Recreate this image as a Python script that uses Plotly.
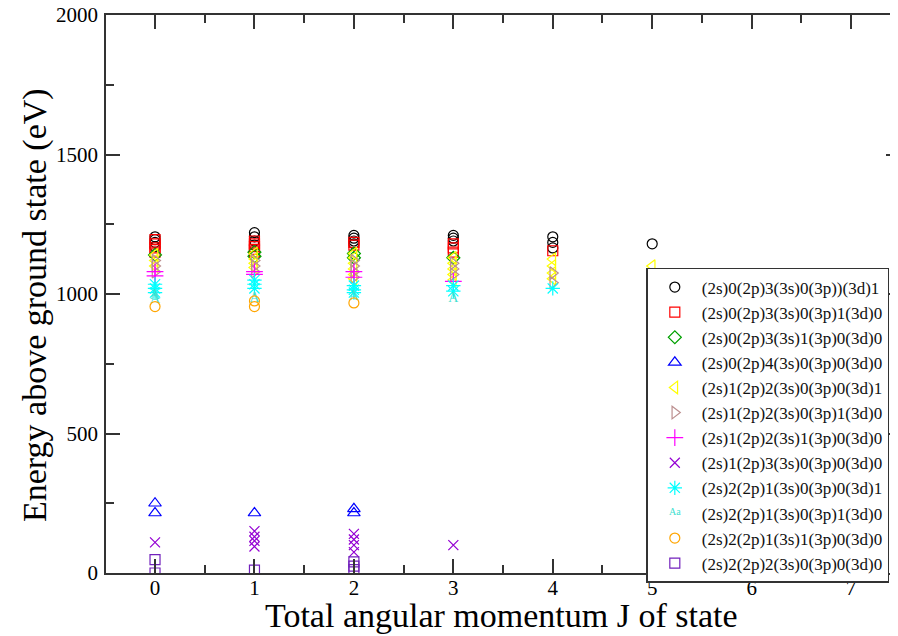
import plotly.graph_objects as go

# ---------------- data ----------------
names = [
    "(2s)0(2p)3(3s)0(3p))(3d)1",
    "(2s)0(2p)3(3s)0(3p)1(3d)0",
    "(2s)0(2p)3(3s)1(3p)0(3d)0",
    "(2s)0(2p)4(3s)0(3p)0(3d)0",
    "(2s)1(2p)2(3s)0(3p)0(3d)1",
    "(2s)1(2p)2(3s)0(3p)1(3d)0",
    "(2s)1(2p)2(3s)1(3p)0(3d)0",
    "(2s)1(2p)3(3s)0(3p)0(3d)0",
    "(2s)2(2p)1(3s)0(3p)0(3d)1",
    "(2s)2(2p)1(3s)0(3p)1(3d)0",
    "(2s)2(2p)1(3s)1(3p)0(3d)0",
    "(2s)2(2p)2(3s)0(3p)0(3d)0",
]

j1 = [0, 0, 0, 0, 1, 1, 1, 1, 2, 2, 2, 2, 3, 3, 3, 4, 4, 4, 5]
e1 = [1205, 1195, 1185, 1170, 1220, 1205, 1190, 1175, 1210, 1200, 1190, 1180, 1210, 1200, 1190, 1205, 1185, 1165, 1180]

j2 = [0, 0, 0, 0, 1, 1, 1, 1, 1, 2, 2, 3, 3, 3, 4]
e2 = [1195, 1180, 1165, 1150, 1190, 1180, 1170, 1160, 1150, 1185, 1175, 1180, 1165, 1150, 1155]

j3 = [0, 1, 1, 2, 2, 3]
e3 = [1140, 1150, 1135, 1145, 1130, 1130]

j4 = [0, 0, 1, 2, 2]
e4 = [250, 215, 215, 230, 215]

j5 = [0, 0, 0, 1, 1, 1, 1, 2, 2, 2, 2, 2, 2, 3, 3, 3, 3, 3, 4, 4, 4, 4, 5]
e5 = [1140, 1120, 1100, 1145, 1125, 1110, 1095, 1145, 1130, 1110, 1090, 1070, 1055,
      1130, 1110, 1090, 1070, 1050, 1125, 1100, 1075, 1055, 1100]

j6 = [0, 0, 0, 1, 1, 1, 2, 2, 2, 2, 3, 3, 3, 4, 4]
e6 = [1120, 1100, 1080, 1120, 1100, 1080, 1120, 1100, 1080, 1060, 1110, 1090, 1070, 1075, 1040]

j7 = [0, 0, 1, 1, 2, 2, 3]
e7 = [1080, 1065, 1080, 1070, 1080, 1060, 1045]

j8 = [0, 1, 1, 1, 1, 2, 2, 2, 2, 3]
e8 = [110, 150, 130, 115, 95, 140, 120, 100, 75, 100]

j9 = [0, 0, 0, 1, 1, 1, 2, 2, 2, 3, 3, 4]
e9 = [1035, 1020, 1005, 1050, 1035, 1020, 1030, 1015, 1005, 1030, 1010, 1020]

j10 = [0, 0, 1, 2, 3]
e10 = [995, 980, 985, 990, 985]

j11 = [0, 1, 1, 2]
e11 = [955, 975, 955, 968]

j12 = [0, 0, 1, 2, 2, 2]
e12 = [48, 0, 10, 40, 25, 12]

x_tick_vals = [0, 1, 2, 3, 4, 5, 6, 7]
y_tick_vals = [0, 500, 1000, 1500, 2000]

# ---------------- styles ----------------
colors = ["#000000", "#FF0000", "#00A000", "#0000FF", "#FFFF00", "#BC8F8F",
          "#FF00FF", "#9400D3", "#00FFFF", "#40E0D0", "#FFA500", "#7221BC"]
symbols = ["circle-open", "square-open", "diamond-open", "triangle-up-open",
           "triangle-left-open", "triangle-right-open", "cross-thin-open",
           "x-thin-open", "asterisk-open", None, "circle-open", "square-open"]
sizes = [10, 10, 10, 11, 11, 11, 12, 10, 12, 10, 10, 10]

js = [j1, j2, j3, j4, j5, j6, j7, j8, j9, j10, j11, j12]
es = [e1, e2, e3, e4, e5, e6, e7, e8, e9, e10, e11, e12]

SERIF = "Liberation Serif, Times New Roman, serif"

fig = go.Figure()
for i in range(12):
    if symbols[i] is None:
        fig.add_trace(go.Scatter(
            x=js[i], y=es[i], mode="text", text=["A"] * len(js[i]),
            textfont=dict(color=colors[i], size=14, family=SERIF),
            name=names[i], legendgroup=names[i]))
    else:
        fig.add_trace(go.Scatter(
            x=js[i], y=es[i], mode="markers", name=names[i], legendgroup=names[i],
            marker=dict(symbol=symbols[i], size=sizes[i], color=colors[i],
                        line=dict(color=colors[i], width=1.2))))

axis_common = dict(
    showline=True, linecolor="#333333", linewidth=1.5, mirror="allticks",
    ticks="inside", ticklen=14, tickwidth=1.5, tickcolor="#333333",
    showgrid=False, zeroline=False, ticklabeloverflow="allow", automargin=False,
    tickfont=dict(family=SERIF, size=21, color="#000000"),
)

fig.update_xaxes(range=[-0.493, 7.492], tickvals=x_tick_vals,
                 minor=dict(dtick=0.5, tick0=0, ticks="inside", ticklen=8,
                            tickwidth=1.5, tickcolor="#333333", showgrid=False),
                 ticklabelstandoff=-5, **axis_common)
fig.update_yaxes(range=[0, 2000], tickvals=y_tick_vals,
                 minor=dict(dtick=250, tick0=0, ticks="inside", ticklen=8,
                            tickwidth=1.5, tickcolor="#333333", showgrid=False),
                 ticklabelstandoff=2, **axis_common)

fig.update_layout(
    width=893, height=628,
    margin=dict(l=98, r=1, t=7, b=63),
    paper_bgcolor="white", plot_bgcolor="white",
    showlegend=True,
    legend=dict(x=0.6805, y=0.5466, xanchor="left", yanchor="top",
                bgcolor="white", bordercolor="#333333", borderwidth=1.5,
                font=dict(family=SERIF, size=17, color="#111111"),
                tracegroupgap=0, itemsizing="trace", itemwidth=44),
    annotations=[
        dict(text="Total angular momentum J of state", xref="paper", yref="paper",
             x=0.4975, y=-0.076, xanchor="center", yanchor="middle", showarrow=False,
             font=dict(family=SERIF, size=34, color="#000000")),
        dict(text="Energy above ground state (eV)", xref="paper", yref="paper",
             x=-0.0896, y=0.48, xanchor="center", yanchor="middle", showarrow=False,
             textangle=-90, font=dict(family=SERIF, size=34, color="#000000")),
    ],
)

fig.write_html("out.html")
